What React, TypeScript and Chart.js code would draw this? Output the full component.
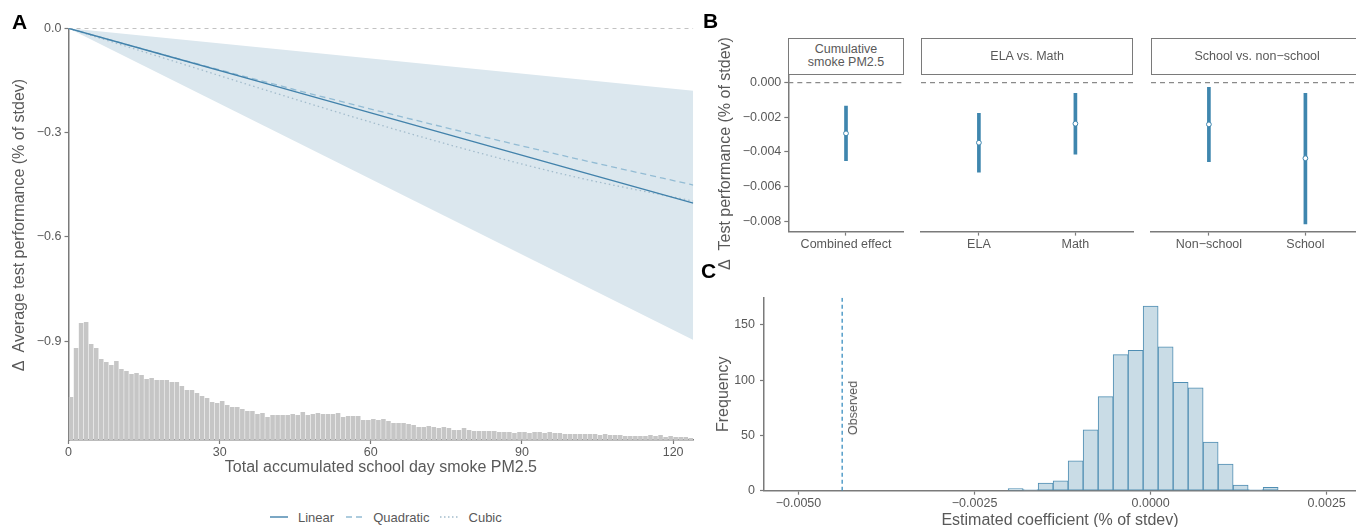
import React, { useEffect, useRef } from "react";
import { Chart, registerables } from "chart.js";

Chart.register(...registerables);

// ---------------- Panel A data ----------------
const A_X_TICKS = [0, 30, 60, 90, 120];
const A_Y_TICKS = [0, -0.3, -0.6, -0.9];
const A_X_MIN = 0;
const A_X_MAX = 124;
const A_Y_MIN = -1.184;
const A_Y_MAX = 0;
const FIT_X = [0, 20, 40, 60, 80, 100, 124];
const LINEAR_Y = [0, -0.0811, -0.1622, -0.2433, -0.3244, -0.4055, -0.5028];
const QUADRATIC_Y = [0, -0.0804, -0.1578, -0.2322, -0.3038, -0.3723, -0.4507];
const CUBIC_Y = [0, -0.0906, -0.1816, -0.27, -0.3524, -0.4257, -0.4969];
const CI_X = [0, 124];
const CI_UPPER = [0, -0.1795];
const CI_LOWER = [0, -0.8965];
// distribution of exposure (1-unit bins from 0 to 124), relative counts
const EXPOSURE_HIST = [
  43, 92, 117, 118, 96, 92, 81, 78, 75, 79,
  71, 69, 66, 67, 65, 61, 62, 60, 60, 60,
  58, 58, 54, 50, 50, 47, 44, 42, 38, 37,
  39, 35, 33, 33, 31, 29, 29, 26, 27, 23,
  25, 25, 25, 25, 26, 25, 28, 25, 26, 27,
  26, 26, 26, 27, 23, 24, 24, 24, 20, 20,
  21, 20, 21, 19, 17, 17, 17, 16, 15, 13,
  13, 14, 13, 12, 13, 12, 10, 10, 12, 10,
  9, 9, 9, 9, 9, 8, 8, 8, 7, 8,
  8, 7, 8, 8, 7, 8, 7, 7, 6, 6,
  6, 6, 6, 6, 6, 5, 6, 5, 5, 5,
  4, 4, 4, 4, 4, 5, 4, 5, 3, 4,
  3, 3, 3, 2,
];
const HIST_UNIT = 1 / 347.7; // y-axis units per histogram count unit

// ---------------- Panel B data ----------------
const B_Y_TICKS = [0, -0.002, -0.004, -0.006, -0.008];
const B_Y_MIN = -0.00861;
const B_Y_MAX = 0.00041;
const B_FACETS = ["Cumulative\nsmoke PM2.5", "ELA vs. Math", "School vs. non\u2212school"];
const B1_LABELS = ["Combined effect"];
const B1_EST = [-0.00293];
const B1_LO = [-0.00451];
const B1_HI = [-0.00135];
const B2_LABELS = ["ELA", "Math"];
const B2_EST = [-0.00347, -0.00237];
const B2_LO = [-0.00518, -0.00414];
const B2_HI = [-0.00177, -0.00061];
const B3_LABELS = ["Non\u2212school", "School"];
const B3_EST = [-0.00241, -0.00437];
const B3_LO = [-0.00457, -0.00817];
const B3_HI = [-0.00027, -0.00061];

// ---------------- Panel C data ----------------
const C_BIN_CENTERS = [
  -0.001917, -0.001704, -0.001491, -0.001278, -0.001065, -0.000852, -0.000639, -0.000426, -0.000213,
  0, 0.000213, 0.000426, 0.000639, 0.000852, 0.001065, 0.001278, 0.001491, 0.001704,
];
const C_COUNTS = [2, 1, 7, 9, 27, 55, 85, 123, 127, 167, 130, 98, 93, 44, 24, 5, 1, 3];
const C_OBSERVED = -0.00438;
const C_X_TICKS = [-0.005, -0.0025, 0, 0.0025];
const C_Y_TICKS = [0, 50, 100, 150];
const C_X_MIN = -0.00549;
const C_X_MAX = 0.002916;
const C_Y_MAX = 174.5;

// ---------------- styles ----------------
const FONT = '"Liberation Sans", Arial, Helvetica, sans-serif';
const TXT = "#595959";
const AXIS = "#7a7a7a";
const MINUS = "\u2212";
const BLUE = "#3f86ae";
const LIN_COL = "#4282ab";
const QUAD_COL = "#93bcd4";
const CUB_COL = "#a3bccc";

Chart.defaults.font.family = FONT;

function fmt(v: number, d: number) {
  const s = Math.abs(v).toFixed(d);
  return v < -1e-12 ? MINUS + s : s;
}

type AxisOpts = {
  min: number;
  max: number;
  ticks: number[];
  format: (v: number) => string;
  pad: number;
  fitW?: number;
  fitH?: number;
  title?: string;
  titlePad?: any;
  display?: boolean;
};

function axis(o: AxisOpts): any {
  return {
    type: "linear",
    min: o.min,
    max: o.max,
    bounds: "data",
    offset: false,
    display: o.display === undefined ? true : o.display,
    afterBuildTicks: (s: any) => {
      s.ticks = o.ticks.map((v) => ({ value: v }));
    },
    afterFit: (s: any) => {
      if (o.fitW !== undefined) s.width = o.fitW;
      if (o.fitH !== undefined) s.height = o.fitH;
    },
    grid: {
      display: true,
      drawOnChartArea: false,
      drawTicks: true,
      tickLength: 4,
      tickWidth: 1.2,
      tickColor: AXIS,
      color: AXIS,
      offset: false,
    },
    border: { display: true, color: AXIS, width: 1.5 },
    ticks: {
      autoSkip: false,
      maxRotation: 0,
      padding: o.pad,
      color: TXT,
      font: { family: FONT, size: 12.5 },
      callback: (v: any) => o.format(Number(v)),
    },
    title: o.title
      ? { display: true, text: o.title, color: TXT, font: { family: FONT, size: 16 }, padding: o.titlePad }
      : { display: false },
  };
}

const baseOptions = (padding: any) => ({
  responsive: false,
  maintainAspectRatio: false,
  animation: false as const,
  devicePixelRatio: 1,
  events: [] as any[],
  layout: { padding },
  plugins: { legend: { display: false }, tooltip: { enabled: false } },
});

function configA(): any {
  const pts = (ys: number[], xs: number[]) => xs.map((x, i) => ({ x, y: ys[i] }));
  return {
    type: "bar",
    data: {
      datasets: [
        {
          type: "line",
          label: "zero",
          data: [{ x: A_X_MIN, y: 0 }, { x: A_X_MAX, y: 0 }],
          borderColor: "#9a9a9a",
          borderWidth: 1,
          borderDash: [4, 4],
          pointRadius: 0,
          order: 1,
        },
        {
          type: "line",
          label: "Linear",
          data: pts(LINEAR_Y, FIT_X),
          borderColor: LIN_COL,
          borderWidth: 1.4,
          pointRadius: 0,
          order: 0,
        },
        {
          type: "line",
          label: "Quadratic",
          data: pts(QUADRATIC_Y, FIT_X),
          borderColor: QUAD_COL,
          borderWidth: 1.3,
          borderDash: [6, 4],
          cubicInterpolationMode: "monotone",
          pointRadius: 0,
          order: 0,
        },
        {
          type: "line",
          label: "Cubic",
          data: pts(CUBIC_Y, FIT_X),
          borderColor: CUB_COL,
          borderWidth: 1.3,
          borderDash: [1.5, 3],
          cubicInterpolationMode: "monotone",
          pointRadius: 0,
          order: 0,
        },
        {
          type: "line",
          label: "ciUpper",
          data: pts(CI_UPPER, CI_X),
          borderColor: "rgba(0,0,0,0)",
          borderWidth: 1,
          pointRadius: 0,
          fill: "+1",
          backgroundColor: "#dbe7ee",
          order: 5,
        },
        {
          type: "line",
          label: "ciLower",
          data: pts(CI_LOWER, CI_X),
          borderColor: "rgba(0,0,0,0)",
          borderWidth: 1,
          pointRadius: 0,
          fill: false,
          order: 5,
        },
        {
          type: "bar",
          label: "hist",
          data: EXPOSURE_HIST.map((h, i) => ({ x: i + 0.5, y: [A_Y_MIN, A_Y_MIN + h * HIST_UNIT] })),
          backgroundColor: "#c6c6c6",
          barPercentage: 0.9,
          categoryPercentage: 1,
          order: 10,
        },
      ],
    },
    options: {
      ...baseOptions({ left: 0, top: 28.3, right: 6.7, bottom: 0 }),
      scales: {
        x: axis({
          min: A_X_MIN,
          max: A_X_MAX,
          ticks: A_X_TICKS,
          format: (v) => String(v),
          pad: 1,
          fitH: 40,
          title: "Total accumulated school day smoke PM2.5",
          titlePad: { top: 0, bottom: 2.4 },
        }),
        y: axis({
          min: A_Y_MIN,
          max: A_Y_MAX,
          ticks: A_Y_TICKS,
          format: (v) => fmt(v, 1),
          pad: 3,
          fitW: 68.5,
        }),
      },
    },
  };
}

function configB(labels: string[], est: number[], lo: number[], hi: number[], showY: boolean, padding: any, fitW: number, fitH: number): any {
  const n = labels.length;
  return {
    type: "bar",
    data: {
      datasets: [
        {
          type: "line",
          label: "est",
          data: est.map((y, i) => ({ x: i + 1, y })),
          showLine: false,
          pointRadius: 2.4,
          pointBorderWidth: 1,
          pointBackgroundColor: "#ffffff",
          pointBorderColor: BLUE,
          order: 0,
        },
        {
          type: "bar",
          label: "ci",
          data: lo.map((l, i) => ({ x: i + 1, y: [l, hi[i]] })),
          backgroundColor: BLUE,
          barThickness: 3,
          order: 1,
        },
        {
          type: "line",
          label: "zero",
          data: [{ x: 0.4, y: 0 }, { x: n + 0.6, y: 0 }],
          borderColor: "#8a8a8a",
          borderWidth: 1.2,
          borderDash: [5, 4],
          pointRadius: 0,
          order: 2,
        },
      ],
    },
    options: {
      ...baseOptions(padding),
      scales: {
        x: axis({
          min: 0.4,
          max: n + 0.6,
          ticks: labels.map((_, i) => i + 1),
          format: (v) => labels[Math.round(v) - 1] || "",
          pad: 1,
          fitH,
        }),
        y: axis({
          min: B_Y_MIN,
          max: B_Y_MAX,
          ticks: B_Y_TICKS,
          format: (v) => fmt(v, 3),
          pad: 3,
          fitW,
          display: showY,
          title: showY ? "\u0394  Test performance (% of stdev)" : undefined,
          titlePad: { top: 16.4, bottom: 0 },
        }),
      },
    },
  };
}

function configC(): any {
  return {
    type: "bar",
    data: {
      datasets: [
        {
          type: "line",
          label: "Observed",
          data: [{ x: C_OBSERVED, y: 0 }, { x: C_OBSERVED, y: C_Y_MAX }],
          borderColor: "#3a8ec0",
          borderWidth: 1.3,
          borderDash: [4, 3],
          pointRadius: 0,
          order: 0,
        },
        {
          type: "bar",
          label: "perm",
          data: C_BIN_CENTERS.map((x, i) => ({ x, y: C_COUNTS[i] })),
          backgroundColor: "#c9dce6",
          borderColor: "#4f8eb3",
          borderWidth: 1,
          borderSkipped: false,
          barPercentage: 1,
          categoryPercentage: 1,
          order: 1,
        },
      ],
    },
    options: {
      ...baseOptions({ left: 0, top: 17.7, right: 0, bottom: 0 }),
      scales: {
        x: axis({
          min: C_X_MIN,
          max: C_X_MAX,
          ticks: C_X_TICKS,
          format: (v) => fmt(v, 4),
          pad: 1,
          fitH: 49.3,
          title: "Estimated coefficient (% of stdev)",
          titlePad: { top: 0, bottom: 9.4 },
        }),
        y: axis({
          min: 0,
          max: C_Y_MAX,
          ticks: C_Y_TICKS,
          format: (v) => String(v),
          pad: 5,
          fitW: 64,
          title: "Frequency",
          titlePad: { top: 13.7, bottom: 0 },
        }),
      },
    },
  };
}

const abs = (l: number, t: number, w: number, h: number): React.CSSProperties => ({
  position: "absolute",
  left: l,
  top: t,
  width: w,
  height: h,
});

function Strip({ left, right, text }: { left: number; right: number; text: string }) {
  return (
    <div
      style={{
        ...abs(left, 37.7, right - left, 37.6),
        boxSizing: "border-box",
        border: `1.5px solid ${AXIS}`,
        background: "#fff",
        display: "flex",
        alignItems: "center",
        justifyContent: "center",
        textAlign: "center",
        fontSize: 12.5,
        lineHeight: "13.5px",
        color: TXT,
        whiteSpace: "pre",
      }}
    >
      {text}
    </div>
  );
}

function LegendLine({ dash, color }: { dash?: string; color: string }) {
  return (
    <svg width={18} height={4} style={{ display: "block" }}>
      <line x1={0} y1={2} x2={18} y2={2} stroke={color} strokeWidth={1.4} strokeDasharray={dash} />
    </svg>
  );
}

export default function App() {
  const aRef = useRef<HTMLCanvasElement>(null);
  const b1Ref = useRef<HTMLCanvasElement>(null);
  const b2Ref = useRef<HTMLCanvasElement>(null);
  const b3Ref = useRef<HTMLCanvasElement>(null);
  const cRef = useRef<HTMLCanvasElement>(null);

  useEffect(() => {
    const charts: Chart[] = [];
    charts.push(new Chart(aRef.current!, configA()));
    charts.push(
      new Chart(
        b1Ref.current!,
        configB(B1_LABELS, B1_EST, B1_LO, B1_HI, true, { left: 0, top: 45.6, right: 6.3, bottom: 0 }, 88.3, 48.4)
      )
    );
    charts.push(
      new Chart(
        b2Ref.current!,
        configB(B2_LABELS, B2_EST, B2_LO, B2_HI, false, { left: 6, top: 5.6, right: 6.7, bottom: 0 }, 0, 28.4)
      )
    );
    charts.push(
      new Chart(
        b3Ref.current!,
        configB(B3_LABELS, B3_EST, B3_LO, B3_HI, false, { left: 6, top: 5.6, right: 6.7, bottom: 0 }, 0, 28.4)
      )
    );
    charts.push(new Chart(cRef.current!, configC()));
    return () => charts.forEach((c) => c.destroy());
  }, []);

  const label = (t: string, l: number, tp: number) => (
    <div style={{ position: "absolute", left: l, top: tp, fontSize: 21, fontWeight: 700, lineHeight: 1, color: "#000" }}>{t}</div>
  );

  return (
    <div
      style={{
        ...abs(0, 0, 1356, 527),
        overflow: "hidden",
        background: "#fff",
        fontFamily: FONT,
        color: TXT,
      }}
    >
      <canvas ref={aRef} width={700} height={480} style={abs(0, 0, 700, 480)} />
      <canvas ref={b1Ref} width={210} height={250} style={abs(700, 30, 210, 250)} />
      <canvas ref={b2Ref} width={225} height={190} style={abs(915, 70, 225, 190)} />
      <canvas ref={b3Ref} width={225} height={190} style={abs(1145, 70, 225, 190)} />
      <canvas ref={cRef} width={656} height={260} style={abs(700, 280, 656, 260)} />

      <div
        style={{
          position: "absolute",
          left: 19,
          top: 225,
          transform: "translate(-50%, -50%) rotate(-90deg)",
          fontSize: 16,
          whiteSpace: "pre",
          color: TXT,
        }}
      >
        {"\u0394  Average test performance (% of stdev)"}
      </div>

      <Strip left={788.3} right={903.7} text={B_FACETS[0]} />
      <Strip left={921} right={1133.3} text={B_FACETS[1]} />
      <Strip left={1151} right={1363.3} text={B_FACETS[2]} />

      <div
        style={{
          position: "absolute",
          left: 853,
          top: 408,
          transform: "translate(-50%, -50%) rotate(-90deg)",
          fontSize: 12.5,
          whiteSpace: "nowrap",
          color: TXT,
        }}
      >
        Observed
      </div>

      <div
        style={{
          position: "absolute",
          left: 270,
          top: 509,
          height: 16,
          display: "flex",
          alignItems: "center",
          fontSize: 13,
          whiteSpace: "nowrap",
          color: TXT,
        }}
      >
        <LegendLine color={LIN_COL} />
        <span style={{ marginLeft: 10, marginRight: 12 }}>Linear</span>
        <LegendLine color={QUAD_COL} dash="6,4" />
        <span style={{ marginLeft: 9, marginRight: 10 }}>Quadratic</span>
        <LegendLine color={CUB_COL} dash="1.5,2.5" />
        <span style={{ marginLeft: 11 }}>Cubic</span>
      </div>

      {label("A", 12, 11)}
      {label("B", 703, 10)}
      {label("C", 701, 260)}
    </div>
  );
}
